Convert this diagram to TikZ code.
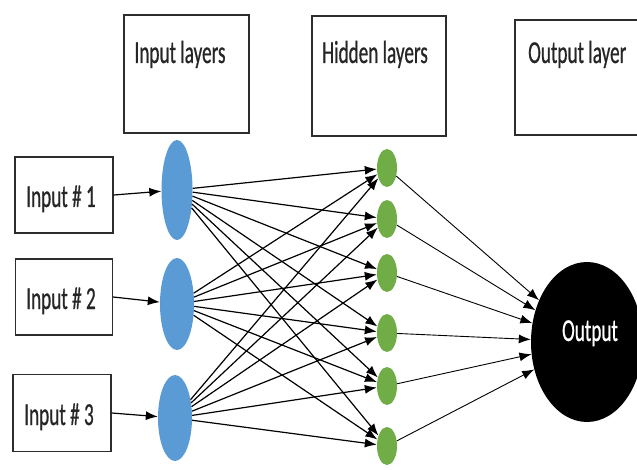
\documentclass[tikz,border=0pt]{standalone}
\usepackage{fontspec}
\setmainfont{Carlito}
\newfontfamily\narrowfont[FakeStretch=0.6,FakeBold=0.6]{Carlito}
\usetikzlibrary{arrows.meta,shapes.geometric}
\definecolor{nblue}{RGB}{91,155,213}
\definecolor{ngreen}{RGB}{112,173,71}
\definecolor{boxline}{RGB}{45,45,45}
\tikzset{
  box/.style={draw=boxline, line width=1.3pt, fill=white, inner sep=0pt},
  lbl/.style={font=\narrowfont\fontsize{32}{34}\selectfont, text=black!85, inner sep=0pt},
  bnode/.style={ellipse, fill=nblue, draw=none, inner sep=0pt},
  gnode/.style={ellipse, fill=ngreen, draw=none, inner sep=0pt, minimum width=20pt, minimum height=38pt},
  arr/.style={draw=black, line width=1.2pt, -{Latex[length=12pt,width=9pt]}},
}
\begin{document}
\begin{tikzpicture}[x=1pt,y=-1pt]
\useasboundingbox[fill=white] (0,0) rectangle (637,470);
% top headers
\node[box, minimum width=125pt, minimum height=118pt] (hin) at (186.5,74) {};
\node[lbl, anchor=base] (hint) at (180,63) {Input layers};
\node[box, minimum width=134pt, minimum height=120pt] (hhid) at (379,76) {};
\node[lbl, anchor=base] (hhidt) at (375,63) {Hidden layers};
\node[box, minimum width=140pt, minimum height=115pt] (hout) at (585,77.5) {};
\node[lbl, anchor=base west] (houtt) at (528,63) {Output layer};
% input boxes
\node[box, minimum width=98pt, minimum height=76pt] (in1) at (64,195) {};
\node[lbl, anchor=base] (in1t) at (61,207) {Input \# 1};
\node[box, minimum width=97pt, minimum height=76pt] (in2) at (64,297) {};
\node[lbl, anchor=base] (in2t) at (61,309) {Input \# 2};
\node[box, minimum width=98pt, minimum height=77pt] (in3) at (62,413) {};
\node[lbl, anchor=base] (in3t) at (59,425) {Input \# 3};
% blue nodes
\node[bnode, minimum width=31pt, minimum height=100pt] (b1) at (177,190) {};
\node[bnode, minimum width=34pt, minimum height=92pt] (b2) at (177,304) {};
\node[bnode, minimum width=34pt, minimum height=86pt] (b3) at (175,418) {};
% green nodes
\node[gnode] (g1) at (387,168) {};
\node[gnode] (g2) at (387,219) {};
\node[gnode] (g3) at (387,273) {};
\node[gnode] (g4) at (387,333) {};
\node[gnode] (g5) at (387,386) {};
\node[gnode] (g6) at (387,446) {};
% output
\node[ellipse, fill=black, minimum width=112pt, minimum height=160pt, inner sep=0pt] (out) at (587,342) {};
\node[lbl, text=white, anchor=base] (outt) at (590,341) {Output};
% input arrows
\draw[arr] (in1.east) -- (b1);
\draw[arr] (in2.east) -- (b2);
\draw[arr] (in3.east) -- (b3);
% blue to green
\foreach \b in {b1,b2,b3}{
  \foreach \g in {g1,g2,g3,g4,g5,g6}{
    \draw[arr] (\b) -- (\g);
  }
}
% green to output
\foreach \g in {g1,g2,g3,g4,g5,g6}{
  \draw[arr, line width=0.9pt] (\g) -- (out);
}
\end{tikzpicture}
\end{document}
